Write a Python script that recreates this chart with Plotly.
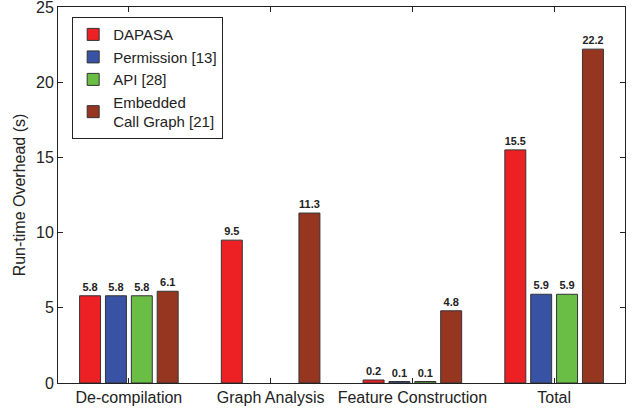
import plotly.graph_objects as go

categories = ["De-compilation", "Graph Analysis", "Feature Construction", "Total"]
series_names = ["DAPASA", "Permission [13]", "API [28]", "Embedded<br>Call Graph [21]"]
dapasa = [5.8, 9.5, 0.2, 15.5]
permission = [5.8, 0.0, 0.1, 5.9]
api = [5.8, 0.0, 0.1, 5.9]
ecg = [6.1, 11.3, 4.8, 22.2]
colors = ["#ED2024", "#3953A4", "#6ABD45", "#973620"]
y_ticks = [0, 5, 10, 15, 20, 25]

FONT = "Liberation Sans, Arial, Helvetica"
xpos = [1, 2, 3, 4]
fig = go.Figure()
for name, vals, col in zip(series_names, [dapasa, permission, api, ecg], colors):
    fig.add_trace(go.Bar(
        x=xpos, y=vals, name=name,
        marker=dict(color=col, line=dict(color="#333333",
                                         width=[1 if v > 0 else 0 for v in vals])),
        text=[("%.1f" % v) if v > 0 else "" for v in vals],
        textposition="outside", cliponaxis=False,
        textfont=dict(family=FONT, size=11, color="#222222"),
        texttemplate="<b>%{text}</b>",
    ))

fig.update_layout(
    width=635, height=408,
    margin=dict(l=58, r=10, t=7, b=25),
    paper_bgcolor="white", plot_bgcolor="white",
    barmode="group", bargap=0.27, bargroupgap=0.19,
    font=dict(family=FONT, size=16, color="#222222"),
    showlegend=True,
    legend=dict(x=0.025, y=0.973, xanchor="left", yanchor="top",
                bordercolor="#222222", borderwidth=1, bgcolor="white",
                font=dict(size=15), tracegroupgap=0, itemwidth=30),
    xaxis=dict(range=[0.5, 4.5], tickvals=xpos, ticktext=categories, automargin=False,
               showline=True, linecolor="#222222", linewidth=1, mirror="ticks",
               ticks="inside", ticklen=5, tickcolor="#222222",
               showgrid=False, zeroline=False, tickfont=dict(size=16)),
    yaxis=dict(range=[0, 25.001], tickvals=y_ticks, ticklabeloverflow="allow", automargin=False,
               showline=True, linecolor="#222222", linewidth=1, mirror="ticks",
               ticks="inside", ticklen=5, tickcolor="#222222",
               showgrid=False, zeroline=False, tickfont=dict(size=16),
               title=dict(text="Run-time Overhead (s)", font=dict(size=16), standoff=6)),
)
fig.write_html("out.html")
